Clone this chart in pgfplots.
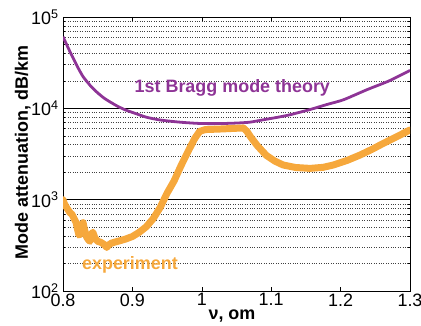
\documentclass[border=0pt]{standalone}
\usepackage{pgfplots}
\pgfplotsset{compat=1.18}
\usepackage{fontspec}
\setmainfont{Liberation Sans}
\definecolor{theory}{RGB}{142,52,150}
\definecolor{expt}{RGB}{246,168,60}
\begin{document}
\begin{tikzpicture}
\useasboundingbox (0,0) rectangle (421bp,326bp);
\begin{axis}[
  at={(63bp,35bp)}, anchor=south west,
  scale only axis,
  width=347bp, height=274bp,
  xmin=0.8, xmax=1.3,
  ymode=log, ymin=100, ymax=100000,
  xtick={0.8,0.9,1,1.1,1.2,1.3},
  xticklabels={0.8,0.9,1,1.1,1.2,1.3},
  ytick={100,1000,10000,100000},
  yticklabels={10\textsuperscript{2},10\textsuperscript{3},10\textsuperscript{4},10\textsuperscript{5}},
  tick align=inside,
  major tick length=4pt, minor tick length=2pt,
  ymajorgrids=true, yminorgrids=true,
  major grid style={black, line width=0.6pt},
  minor grid style={black!75, dotted, line width=0.6pt},
  axis line style={line width=0.8pt},
  tick style={black, line width=0.6pt},
  ticklabel style={font=\fontsize{18}{21}\selectfont},
  yticklabel style={xshift=-1pt},
  xticklabel style={yshift=1pt},
  /pgf/number format/assume math mode=true,
  xlabel={ν, om},
  ylabel={Mode attenuation, dB/km},
  every axis x label/.style={at={(axis description cs:0.487,-0.091)}, anchor=center, font=\fontsize{18}{21}\selectfont\bfseries},
  every axis y label/.style={at={(axis description cs:-0.116,0.505)}, anchor=center, rotate=90, font=\fontsize{18}{21}\selectfont\bfseries},
]
\addplot[theory, line width=2.8pt, line join=round, smooth, tension=0.4] coordinates {
(0.800,60800) (0.808,45000) (0.815,35000) (0.822,27500) (0.829,22200)
(0.840,17500) (0.849,15000) (0.860,12800) (0.877,10700) (0.890,9600)
(0.906,8700) (0.920,8000) (0.940,7450) (0.969,7050) (0.993,6850)
(1.010,6800) (1.030,6820) (1.050,6900) (1.069,7050) (1.089,7500)
(1.110,8000) (1.127,8500) (1.156,9700) (1.180,11000) (1.204,12400)
(1.238,16000) (1.270,20000) (1.300,26000)
};
\addplot[expt, line width=7pt, line join=round, line cap=round] coordinates {
(0.800,1000) (0.802,900) (0.806,800) (0.810,720) (0.813,690) (0.816,620)
(0.819,560) (0.821,470) (0.823,410) (0.825,420) (0.827,520) (0.829,560)
(0.831,470) (0.834,390) (0.837,360) (0.839,350) (0.841,420) (0.843,440)
(0.846,380) (0.850,350) (0.855,340) (0.860,320) (0.863,300) (0.866,320)
(0.870,335) (0.876,345) (0.882,355) (0.890,370) (0.900,395) (0.910,440)
(0.920,505) (0.930,620) (0.940,820) (0.950,1180) (0.960,1600) (0.970,2350)
(0.980,3350) (0.990,4700) (0.997,5600) (1.005,5850) (1.030,5950) (1.060,6100)
(1.065,5600) (1.070,4900) (1.080,3900) (1.093,3050) (1.105,2650) (1.117,2400)
(1.135,2250) (1.156,2200) (1.175,2260) (1.190,2400) (1.210,2700) (1.228,3080)
(1.245,3550) (1.262,4150) (1.280,4850) (1.300,5800)
};
\node[text=theory, font=\fontsize{18}{21}\selectfont\bfseries] at (axis cs:1.044,16700) {1st Bragg mode theory};
\node[text=expt, font=\fontsize{18}{21}\selectfont\bfseries] at (axis cs:0.8965,192) {experiment};
\end{axis}
\end{tikzpicture}
\end{document}
